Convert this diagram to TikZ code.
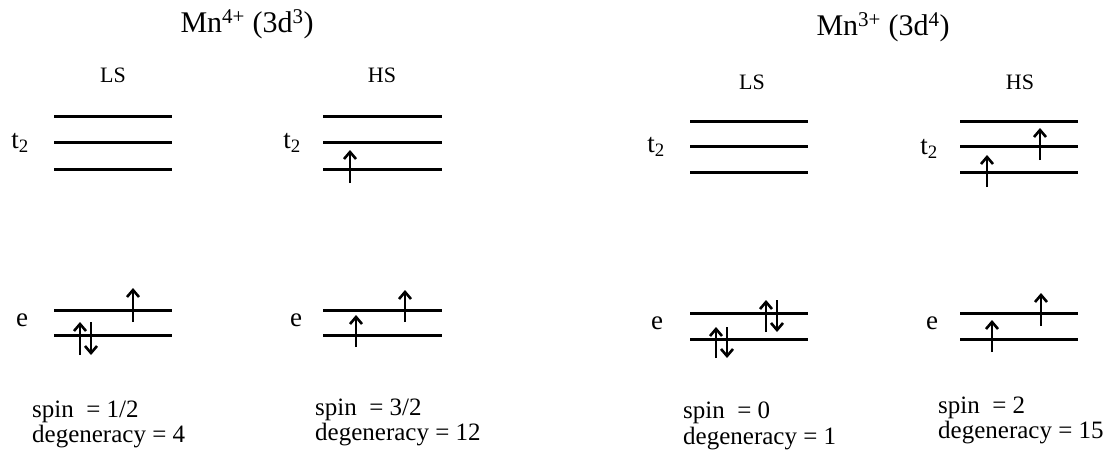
\documentclass[tikz,border=0pt]{standalone}
\usepackage{fontspec}
\setmainfont{Liberation Serif}
\usetikzlibrary{arrows.meta}
\begin{document}
\begin{tikzpicture}[x=1pt,y=-1pt,
  lvl/.style={line width=3pt},
  el/.style={line width=2.8pt,-{Straight Barb[length=7pt,width=12pt,line width=2.6pt]}},
  title/.style={font=\fontsize{30}{34}\selectfont, inner sep=0pt, anchor=base},
  sub/.style={font=\fontsize{22}{26}\selectfont, inner sep=0pt},
  orb/.style={font=\fontsize{27}{30}\selectfont, inner sep=0pt},
  info/.style={font=\fontsize{25}{30}\selectfont, inner sep=0pt, anchor=base west}]
\useasboundingbox (0,0) rectangle (1112,460);
% titles
\node[title] (T1) at (247,33) {Mn\textsuperscript{4+} (3d\textsuperscript{3})};
\node[title] (T2) at (883,36) {Mn\textsuperscript{3+} (3d\textsuperscript{4})};
\node[sub] (LS1) at (113,75) {LS};
\node[sub] (HS1) at (382,75) {HS};
\node[sub] (LS2) at (752,82) {LS};
\node[sub] (HS2) at (1020,82) {HS};
% orbital labels
\node[orb] (ta) at (20,143) {t\textsubscript{2}};
\node[orb] (tb) at (292,143) {t\textsubscript{2}};
\node[orb] (tc) at (656,147) {t\textsubscript{2}};
\node[orb] (td) at (929,149) {t\textsubscript{2}};
\node[orb] (ea) at (22,320) {e};
\node[orb] (eb) at (296,320) {e};
\node[orb] (ec) at (657,323) {e};
\node[orb] (ed) at (932,323) {e};
% panel 1 levels
\foreach \y in {116,142,169} \draw[lvl] (54,\y) -- (172,\y);
\foreach \y in {310,335} \draw[lvl] (54,\y) -- (172,\y);
% panel 2 levels
\foreach \y in {116,142,169} \draw[lvl] (323,\y) -- (442,\y);
\foreach \y in {310,335} \draw[lvl] (323,\y) -- (442,\y);
% panel 3 levels
\foreach \y in {121,146,172} \draw[lvl] (690,\y) -- (808,\y);
\foreach \y in {313,339} \draw[lvl] (690,\y) -- (808,\y);
% panel 4 levels
\foreach \y in {121,146,172} \draw[lvl] (960,\y) -- (1078,\y);
\foreach \y in {313,339} \draw[lvl] (960,\y) -- (1078,\y);
% panel 1 electrons
\draw[el] (133,322) -- (133,288);
\draw[el] (80,355) -- (80,322);
\draw[el] (91,322) -- (91,355);
% panel 2 electrons
\draw[el] (350,183) -- (350,150);
\draw[el] (405,322) -- (405,290);
\draw[el] (356,347) -- (356,315);
% panel 3 electrons
\draw[el] (766,332) -- (766,300);
\draw[el] (777,300) -- (777,332);
\draw[el] (716,358) -- (716,327);
\draw[el] (727,327) -- (727,358);
% panel 4 electrons
\draw[el] (1040,160) -- (1040,128);
\draw[el] (987,187) -- (987,155);
\draw[el] (1041,326) -- (1041,293);
\draw[el] (992,352) -- (992,320);
% info texts
\node[info] (s1) at (32,417) {spin\ \ = 1/2};
\node[info] (d1) at (32,442) {degeneracy = 4};
\node[info] (s2) at (315,415) {spin\ \ = 3/2};
\node[info] (d2) at (315,440) {degeneracy = 12};
\node[info] (s3) at (683,418) {spin\ \ = 0};
\node[info] (d3) at (683,444) {degeneracy = 1};
\node[info] (s4) at (938,413) {spin\ \ = 2};
\node[info] (d4) at (938,438) {degeneracy = 15};
\end{tikzpicture}
\end{document}
